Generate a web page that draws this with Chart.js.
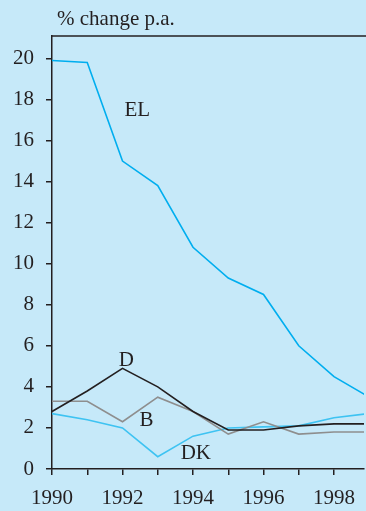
<!DOCTYPE html>
<html>
<head>
<meta charset="utf-8">
<script src="https://cdn.jsdelivr.net/npm/chart.js@4"></script>
<style>
  html, body { margin: 0; padding: 0; background: #c6e9f9; }
  #wrap { position: relative; width: 366px; height: 511px; }
</style>
</head>
<body>
<div id="wrap"><canvas id="chart"></canvas></div>
<script>
const years = [1990, 1991, 1992, 1993, 1994, 1995, 1996, 1997, 1998, 1999];
const el = [19.9, 19.8, 15.0, 13.8, 10.8, 9.3, 8.5, 6.0, 4.5, 3.5];
const d = [2.8, 3.8, 4.9, 4.0, 2.8, 1.9, 1.9, 2.1, 2.2, 2.2];
const b = [3.3, 3.3, 2.3, 3.5, 2.8, 1.7, 2.3, 1.7, 1.8, 1.8];
const dk = [2.7, 2.4, 2.0, 0.6, 1.6, 2.0, 2.05, 2.1, 2.5, 2.7];
const yTicks = [0, 2, 4, 6, 8, 10, 12, 14, 16, 18, 20];
const unitLabel = "% change p.a.";
const seriesLabels = [
  { text: "EL", x: 1992.42, y: 17.45 },
  { text: "D", x: 1992.11, y: 5.3 },
  { text: "B", x: 1992.68, y: 2.34 },
  { text: "DK", x: 1994.08, y: 0.78 },
];

const ink = "#231f20";
const font = "Liberation Serif, Times New Roman, serif";
const ctx = document.getElementById("chart");

function toPoints(values) {
  return values.map((v, i) => ({ x: years[i], y: v }));
}

const extras = {
  id: "extras",
  afterDraw(chart) {
    const c = chart.ctx;
    const area = chart.chartArea;
    const xs = chart.scales.x;
    const ys = chart.scales.y;
    c.save();
    // top frame line
    c.strokeStyle = ink;
    c.lineWidth = 1.5;
    c.beginPath();
    c.moveTo(area.left, area.top);
    c.lineTo(chart.width, area.top);
    c.stroke();
    // unit title
    c.fillStyle = ink;
    c.font = "21px " + font;
    c.textAlign = "left";
    c.textBaseline = "middle";
    c.fillText(unitLabel, 57, 19);
    // series labels
    c.font = "21px " + font;
    c.textAlign = "center";
    seriesLabels.forEach((l) => {
      c.fillText(l.text, xs.getPixelForValue(l.x), ys.getPixelForValue(l.y));
    });
    c.restore();
  },
};

new Chart(ctx, {
  type: "line",
  data: {
    datasets: [
      { data: toPoints(el), borderColor: "#00aeef" },
      { data: toPoints(d), borderColor: "#231f20" },
      { data: toPoints(b), borderColor: "#8e8e8e" },
      { data: toPoints(dk), borderColor: "#3ec3f2" },
    ],
  },
  options: {
    responsive: true,
    maintainAspectRatio: false,
    animation: false,
    elements: {
      line: { borderWidth: 1.6, tension: 0 },
      point: { radius: 0 },
    },
    layout: {
      padding: { top: 36, left: 0, right: 0, bottom: 0 },
    },
    scales: {
      x: {
        type: "linear",
        min: 1990,
        max: 1998.85,
        afterFit: (scale) => {
          scale.height = 42;
        },
        grid: {
          drawOnChartArea: false,
          drawTicks: true,
          tickLength: 6,
          color: ink,
          lineWidth: 1.5,
        },
        border: { color: ink, width: 1.5 },
        ticks: {
          stepSize: 1,
          includeBounds: false,
          autoSkip: false,
          maxRotation: 0,
          padding: 11,
          color: ink,
          font: { family: font, size: 21 },
          callback: (v) => (v % 2 === 0 ? String(v) : ""),
        },
      },
      y: {
        min: 0,
        max: 21.09,
        afterFit: (scale) => {
          scale.width = 52;
        },
        afterBuildTicks: (scale) => {
          scale.ticks = yTicks.map((v) => ({ value: v }));
        },
        grid: {
          drawOnChartArea: false,
          drawTicks: true,
          tickLength: 6,
          color: ink,
          lineWidth: 1.5,
        },
        border: { color: ink, width: 1.5 },
        ticks: {
          padding: 12,
          color: ink,
          font: { family: font, size: 21 },
        },
      },
    },
    plugins: {
      legend: { display: false },
      tooltip: { enabled: false },
    },
  },
  plugins: [extras],
});
</script>
</body>
</html>
